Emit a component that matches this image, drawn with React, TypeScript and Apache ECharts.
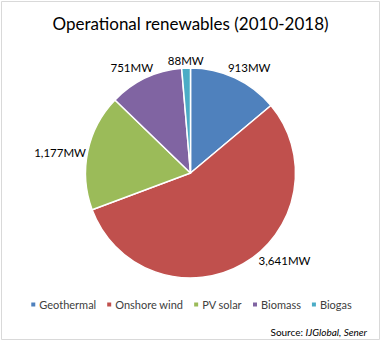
import React, { useEffect, useRef } from "react";
import * as echarts from "echarts";

const categories = ["Geothermal", "Onshore wind", "PV solar", "Biomass", "Biogas"];
const values = [913, 3641, 1177, 751, 88];
const labels = ["913MW", "3,641MW", "1,177MW", "751MW", "88MW"];
const colors = ["#4F81BD", "#C0504D", "#9BBB59", "#8064A2", "#4BACC6"];

const CX = 190.5;
const CY = 173;
const R = 105;
const FONT = "Lato, 'Noto Sans', sans-serif";
// Label directions (degrees clockwise from top) where the original places them off the slice middle
const LABEL_ANGLE_OVERRIDE: Record<number, number> = { 0: 29, 1: 133, 2: 279, 3: 331 };

export default function App() {
  const ref = useRef<HTMLDivElement>(null);
  useEffect(() => {
    if (!ref.current) return;
    const chart = echarts.init(ref.current, undefined, { renderer: "svg" });
    const total = values.reduce((a, b) => a + b, 0);
    const midAngles: number[] = [];
    let acc = 0;
    values.forEach((v) => {
      midAngles.push(((acc + v / 2) / total) * 360);
      acc += v;
    });
    chart.setOption({
      animation: false,
      backgroundColor: "#ffffff",
      title: {
        text: "Operational renewables (2010-2018)",
        left: "center",
        top: 15,
        padding: 0,
        textStyle: { fontFamily: FONT, fontSize: 17, fontWeight: "normal", color: "#000000" },
      },
      legend: {
        data: categories,
        left: "center",
        top: 294,
        icon: "rect",
        itemWidth: 6,
        itemHeight: 6,
        itemGap: 9,
        textStyle: { fontFamily: FONT, fontSize: 11, color: "#404040", padding: [0, 0, 0, -2] },
      },
      graphic: [
        {
          type: "rect",
          shape: { x: 1.5, y: 1.5, width: 378, height: 338 },
          style: { fill: "none", stroke: "#d9d9d9", lineWidth: 1 },
          silent: true,
        },
        {
          type: "text",
          x: 367,
          y: 332,
          style: {
            text: "Source: {i|IJGlobal, Sener}",
            align: "right",
            verticalAlign: "middle",
            fontFamily: FONT,
            fontSize: 10,
            fill: "#000000",
            rich: { i: { fontStyle: "italic", fontFamily: FONT, fontSize: 10, fill: "#000000" } },
          },
        },
      ],
      series: [
        {
          type: "pie",
          center: [CX, CY],
          radius: R,
          startAngle: 90,
          clockwise: true,
          avoidLabelOverlap: false,
          itemStyle: { borderColor: "#ffffff", borderWidth: 1.5 },
          label: {
            show: true,
            position: "outside",
            fontFamily: FONT,
            fontSize: 11.5,
            color: "#000000",
            formatter: (p: any) => labels[p.dataIndex],
          },
          labelLine: { show: false },
          labelLayout: (p: any) => {
            const i = p.dataIndex;
            const ang = ((LABEL_ANGLE_OVERRIDE[i] ?? midAngles[i]) * Math.PI) / 180;
            const sx = Math.sin(ang);
            const cy = -Math.cos(ang);
            const w = p.labelRect.width / 2;
            const h = p.labelRect.height / 2;
            const off = w * Math.abs(sx) + h * Math.abs(cy) + 0.5;
            return {
              x: CX + sx * (R + off),
              y: CY + cy * (R + off),
              align: "center",
              verticalAlign: "middle",
            };
          },
          data: categories.map((c, i) => ({ name: c, value: values[i], itemStyle: { color: colors[i] } })),
        },
      ],
    });
    return () => chart.dispose();
  }, []);
  return (
    <div
      ref={ref}
      style={{ position: "absolute", left: 0, top: 0, width: 381, height: 342 }}
    />
  );
}
